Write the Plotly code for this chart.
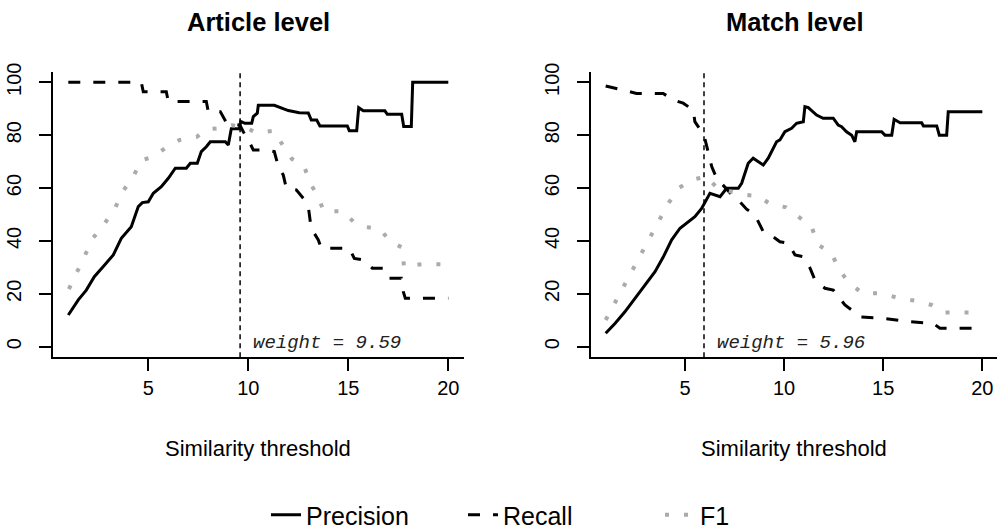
import plotly.graph_objects as go

# ---------------- data ----------------
panel_titles = ["Article level", "Match level"]
series_names = ["Precision", "Recall", "F1"]
weights = [9.59, 5.96]
x_ticks = [5, 10, 15, 20]
y_ticks = [0, 20, 40, 60, 80, 100]

# Article level
art_prec_x = [1.0, 1.5, 1.9, 2.3, 2.75, 3.25, 3.65, 4.15, 4.5, 4.7, 5.0, 5.25, 5.65, 6.0, 6.35, 6.9,
              7.1, 7.45, 7.65, 7.9, 8.1, 8.85, 9.0, 9.15, 9.55, 9.62, 9.83, 10.17, 10.25, 10.45, 10.5,
              11.3, 12.0, 12.55, 13.0, 13.15, 13.42, 13.58, 14.95, 15.05, 15.42, 15.52, 15.75,
              16.83, 16.95, 17.67, 17.77, 18.15, 18.22, 20.0]
art_prec_y = [12.0, 17.7, 21.4, 26.5, 30.3, 34.7, 41.0, 45.4, 53.0, 54.5, 54.8, 58.0, 60.5, 63.7, 67.5, 67.5,
              69.4, 69.4, 73.8, 75.6, 77.5, 77.5, 76.3, 82.4, 82.4, 85.2, 84.5, 84.5, 87.0, 88.3, 91.3,
              91.3, 89.3, 88.5, 88.4, 85.7, 85.7, 83.5, 83.5, 81.7, 81.7, 90.4, 89.2,
              89.2, 87.9, 87.9, 83.3, 83.3, 100.0, 100.0]

art_rec_x = [1.0, 4.65, 4.75, 5.9, 6.0, 7.9, 8.0, 8.6, 8.92, 9.58, 9.75, 10.0, 10.25, 10.9, 11.3, 11.5,
             11.75, 11.9, 12.4, 12.75, 13.0, 13.1, 13.2, 13.5, 13.65, 15.05, 15.3, 15.75, 16.2, 16.75,
             17.0, 17.65, 17.75, 17.85, 20.0]
art_rec_y = [100.0, 100.0, 96.4, 96.4, 92.7, 92.7, 88.9, 88.9, 84.5, 83.8, 81.3, 78.2, 74.4, 74.4, 73.8, 68.1,
             64.9, 59.9, 59.3, 56.1, 53.0, 47.3, 44.1, 40.4, 37.2, 37.2, 33.4, 32.8, 29.7, 29.7,
             25.9, 25.9, 20.8, 18.3, 18.3]

art_f1_x = [1.03, 1.45, 1.87, 2.25, 2.8, 3.33, 3.73, 4.27, 4.65, 5.2, 5.9, 6.57, 7.43, 7.95, 8.73, 9.18,
            9.8, 10.42, 11.3, 11.72, 12.17, 12.8, 13.08, 13.47, 13.78, 14.75, 15.25, 15.78, 16.62,
            17.05, 17.72, 17.78, 18.68, 20.0]
art_f1_y = [21.8, 28.5, 34.7, 41.2, 46.4, 52.3, 58.8, 64.6, 70.6, 71.6, 75.4, 78.2, 79.4, 82.2, 82.8, 83.7,
            83.1, 80.9, 81.7, 76.2, 71.1, 68.1, 62.0, 57.0, 51.2, 51.2, 47.3, 45.4, 44.4,
            40.0, 37.4, 30.3, 31.2, 31.2]

# Match level
mat_prec_x = [1.0, 1.47, 1.97, 2.48, 2.98, 3.49, 3.91, 4.33, 4.75, 5.17, 5.5, 5.84, 6.26, 6.77, 7.1, 7.69,
              7.86, 8.19, 8.44, 8.95, 9.2, 9.62, 9.79, 10.04, 10.38, 10.63, 10.97, 11.05, 11.22, 11.64,
              11.97, 12.48, 12.73, 12.9, 13.15, 13.41, 13.57, 13.66, 14.92, 15.09, 15.43, 15.55, 15.85,
              16.94, 17.03, 17.7, 17.83, 18.2, 18.28, 20.0]
mat_prec_y = [5.1, 8.8, 13.2, 18.3, 23.3, 28.4, 34.0, 40.4, 44.8, 47.3, 49.2, 52.3, 58.0, 56.7, 59.9, 59.9,
              61.8, 69.4, 71.3, 68.7, 71.3, 77.5, 78.2, 81.3, 82.6, 84.5, 85.1, 90.8, 90.4, 87.6,
              86.4, 86.4, 83.8, 83.2, 81.3, 80.0, 77.5, 81.3, 81.3, 80.0, 80.0, 86.0, 84.7,
              84.7, 83.5, 83.5, 80.0, 80.0, 88.9, 88.9]

mat_rec_x = [1.0, 1.3, 2.23, 2.56, 3.9, 4.41, 4.91, 5.42, 5.5, 5.84, 6.0, 6.18, 6.35, 6.6, 6.85, 7.3,
             7.69, 8.11, 8.53, 8.95, 9.2, 9.79, 10.21, 10.55, 10.97, 11.31, 11.56, 12.06, 12.48,
             13.07, 13.4, 13.83, 15.0, 16.35, 17.52, 17.86, 20.0]
mat_rec_y = [98.6, 98.1, 96.4, 95.8, 95.8, 93.3, 92.1, 89.5, 85.1, 81.3, 78.8, 73.1, 68.1, 63.7, 61.8, 58.0,
             55.5, 52.0, 49.8, 43.5, 42.9, 39.7, 39.1, 34.7, 34.0, 29.7, 25.2, 22.1, 21.4,
             15.8, 13.9, 11.3, 10.7, 9.5, 8.8, 7.0, 7.0]

mat_f1_x = [1.0, 1.45, 1.89, 2.36, 2.82, 3.27, 3.74, 4.16, 4.7, 5.42, 6.09, 6.65, 7.35, 8.03, 8.7, 9.29,
            10.1, 10.72, 11.39, 11.69, 12.4, 12.78, 13.29, 13.94, 14.88, 15.73, 16.6, 17.44, 18.08,
            19.04, 20.0]
mat_f1_y = [10.1, 16.4, 22.7, 29.0, 35.3, 41.6, 47.9, 54.2, 60.1, 63.3, 64.3, 59.9, 58.6, 57.4, 57.0, 54.0,
            52.7, 49.2, 45.4, 38.7, 35.3, 29.0, 24.2, 20.2, 20.2, 18.5, 17.4, 15.8, 12.9,
            12.9, 12.9]

panels = [
    dict(prec=(art_prec_x, art_prec_y), rec=(art_rec_x, art_rec_y), f1=(art_f1_x, art_f1_y)),
    dict(prec=(mat_prec_x, mat_prec_y), rec=(mat_rec_x, mat_rec_y), f1=(mat_f1_x, mat_f1_y)),
]

# ---------------- layout geometry ----------------
W, H = 999, 528
FONT = "Liberation Sans, Arial, Helvetica, sans-serif"
x_domains = [[53.1 / W, 463.5 / W], [590.6 / W, 997.4 / W]]
y_domain = [1 - 357.3 / H, 1 - 71.7 / H]

styles = {
    "Precision": dict(color="black", width=3, dash="solid"),
    "Recall": dict(color="black", width=3, dash="12px,13px"),
    "F1": dict(color="#ababab", width=4, dash="4px,15px"),
}

fig = go.Figure()
for i, p in enumerate(panels):
    xa = "x" if i == 0 else "x2"
    ya = "y" if i == 0 else "y2"
    for key, name in zip(["prec", "rec", "f1"], series_names):
        xs, ys = p[key]
        fig.add_trace(go.Scatter(
            x=xs, y=ys, mode="lines", name=name, line=styles[name],
            xaxis=xa, yaxis=ya, legendgroup=name, showlegend=(i == 0),
            hoverinfo="skip"))

axis_common = dict(
    showgrid=False, zeroline=False, showline=True, linecolor="black", linewidth=2,
    ticks="outside", ticklen=12, tickwidth=2, tickcolor="black",
    tickfont=dict(family=FONT, size=20, color="black"), automargin=False, fixedrange=True,
)

layout = dict(
    width=W, height=H, margin=dict(l=0, r=0, t=0, b=0, autoexpand=False),
    paper_bgcolor="white", plot_bgcolor="white",
    font=dict(family=FONT, color="black"),
    showlegend=True,
    legend=dict(orientation="h", x=266 / W, xanchor="left", y=1 - 515 / H, yanchor="middle",
                font=dict(family=FONT, size=25, color="black"), bgcolor="rgba(0,0,0,0)",
                entrywidth=152, entrywidthmode="pixels", itemclick=False, itemdoubleclick=False,
                tracegroupgap=0),
)
for i in range(2):
    sfx = "" if i == 0 else str(i + 1)
    layout["xaxis" + sfx] = dict(axis_common, domain=x_domains[i], range=[0.24, 20.76],
                                 tickvals=x_ticks, anchor="y" + sfx)
    layout["yaxis" + sfx] = dict(axis_common, domain=y_domain, range=[-4, 104],
                                 tickvals=y_ticks, tickangle=-90, ticklabelstandoff=10,
                                 anchor="x" + sfx)
fig.update_layout(**layout)

annotations = []
shapes = []
for i in range(2):
    sfx = "" if i == 0 else str(i + 1)
    cx = (x_domains[i][0] + x_domains[i][1]) / 2
    annotations.append(dict(text="<b>" + panel_titles[i] + "</b>", x=cx, y=1 - 22 / H,
                            xref="paper", yref="paper", xanchor="center", yanchor="middle",
                            showarrow=False, font=dict(family=FONT, size=25.5, color="black")))
    annotations.append(dict(text="Similarity threshold", x=cx, y=1 - 448 / H,
                            xref="paper", yref="paper", xanchor="center", yanchor="middle",
                            showarrow=False, font=dict(family=FONT, size=22, color="black")))
    annotations.append(dict(text=f"weight = {weights[i]:.2f}", x=weights[i], y=0,
                            xref="x" + sfx, yref="y" + sfx, xanchor="left", yanchor="middle",
                            xshift=11, yshift=4, showarrow=False,
                            font=dict(family="Liberation Mono, Courier New, monospace", size=19,
                                      color="#222222", style="italic")))
    shapes.append(dict(type="line", xref="x" + sfx, yref="y" + sfx + " domain",
                       x0=weights[i], x1=weights[i], y0=0, y1=1,
                       line=dict(color="black", width=1.5, dash="5px,4px")))
fig.update_layout(annotations=annotations, shapes=shapes)

fig.write_html("out.html")
